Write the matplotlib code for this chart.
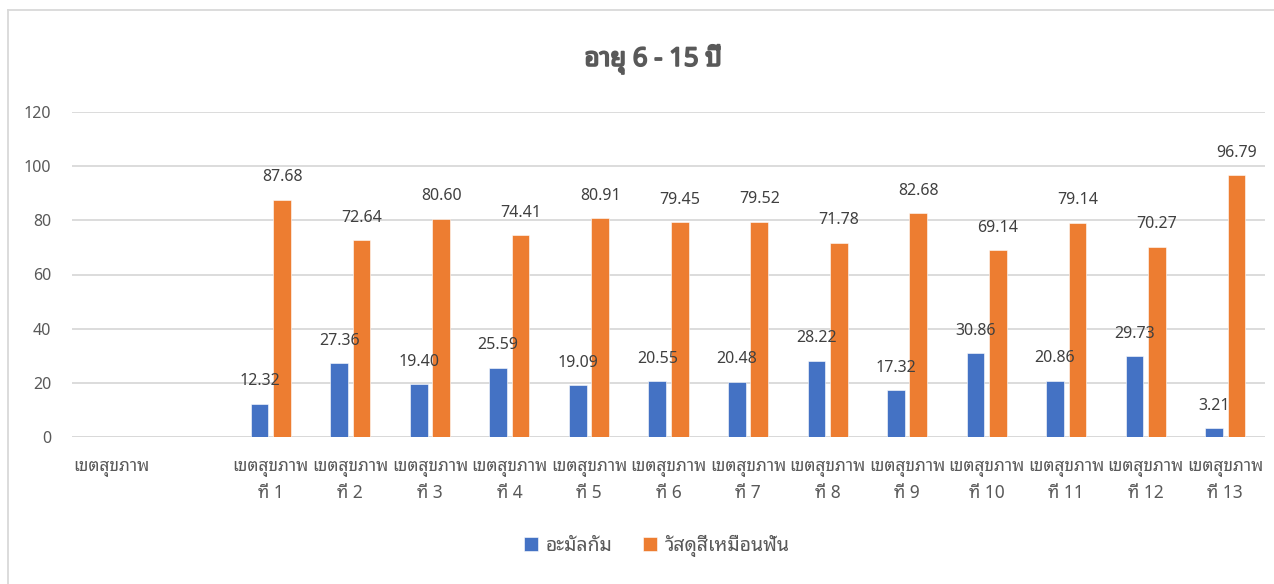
import matplotlib
matplotlib.use("Agg")
import matplotlib.pyplot as plt
import matplotlib.patheffects as pe
import numpy as np
from matplotlib.lines import Line2D

plt.rcParams['font.family'] = ['Noto Sans Thai Looped', 'Noto Sans Thai', 'DejaVu Sans']

categories = ["เขตสุขภาพ", ""] + ["เขตสุขภาพ\nที่ %d" % i for i in range(1, 14)]
amalgam = [None, None, 12.32, 27.36, 19.40, 25.59, 19.09, 20.55, 20.48,
           28.22, 17.32, 30.86, 20.86, 29.73, 3.21]
composite = [None, None, 87.68, 72.64, 80.60, 74.41, 80.91, 79.45, 79.52,
             71.78, 82.68, 69.14, 79.14, 70.27, 96.79]
series_names = ["อะมัลกัม", "วัสดุสีเหมือนฟัน"]
colors = ["#4472C4", "#ED7D31"]
title = "อายุ 6 - 15 ปี"

fig = plt.figure(figsize=(12.74, 5.84), dpi=100)
ax = fig.add_axes([72 / 1274, 1 - 437 / 584, 1193 / 1274, 325 / 584])

x = np.arange(len(categories))
w = 0.222
for vals, off, c, name in zip([amalgam, composite], [-0.141, 0.141], colors, series_names):
    idx = [i for i, v in enumerate(vals) if v is not None]
    hv = [vals[i] for i in idx]
    ax.bar(x[idx] + off, hv, width=w, color=c, label=name, zorder=2,
           edgecolor="white", linewidth=0.4)
    for xi, v in zip(x[idx] + off, hv):
        ax.annotate("%.2f" % v, (xi, v), xytext=(0, 16), textcoords="offset points",
                    ha="center", va="center", fontsize=11.5, color="#404040", zorder=5)

ax.set_xlim(-0.5, len(categories) - 0.5)
ax.set_ylim(0, 120)
ax.set_yticks(range(0, 121, 20))
ax.yaxis.grid(True, color="#D9D9D9", linewidth=1.3, zorder=0)
ax.set_axisbelow(True)
for s in ax.spines.values():
    s.set_visible(False)
ax.axhline(0, color="#D9D9D9", linewidth=1.3, zorder=1)
ax.tick_params(axis="both", length=0, colors="#595959")
ax.tick_params(axis="y", pad=15, labelsize=11.5)
ax.tick_params(axis="x", pad=16, labelsize=12.5)
ax.set_xticks(x)
ax.set_xticklabels(categories, linespacing=1.45)

# title in bold look (stroke, since the Thai font has no bold face here)
fig.text(653 / 1274, 1 - 59 / 584, title, ha="center", va="center",
         fontsize=18.5, color="#595959",
         path_effects=[pe.withStroke(linewidth=1.3, foreground="#595959")])

ax.legend(loc="center", bbox_to_anchor=(657 / 1274, 1 - 546 / 584),
          bbox_transform=fig.transFigure, ncol=2, frameon=False, fontsize=14,
          labelcolor="#595959", handlelength=0.7, handleheight=0.7,
          handletextpad=0.4, columnspacing=1.6)

fig.add_artist(Line2D([8 / 1274, 8 / 1274], [0, 1 - 10 / 584], color="#D9D9D9", linewidth=1.3))
fig.add_artist(Line2D([8 / 1274, 1], [1 - 10 / 584, 1 - 10 / 584], color="#D9D9D9", linewidth=1.3))

fig.savefig("out.png", dpi=100)
